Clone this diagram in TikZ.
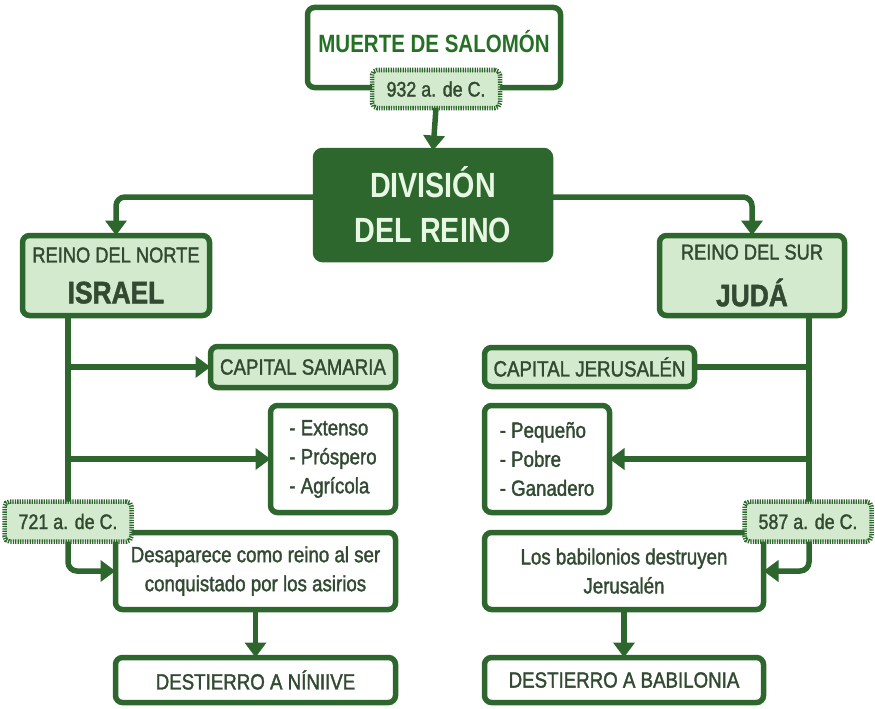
\documentclass[tikz,border=0pt]{standalone}
\usepackage{fontspec}
\setmainfont{Liberation Sans}[FakeStretch=0.82]
\newfontfamily\medfont{Liberation Sans}[FakeStretch=0.85, FakeBold=1.6]
\usetikzlibrary{arrows.meta}
\definecolor{dkgreen}{RGB}{46,103,46}
\definecolor{ltgreen}{RGB}{212,234,207}
\definecolor{txtgreen}{RGB}{50,74,50}
\definecolor{brgreen}{RGB}{36,112,36}
\definecolor{paletxt}{RGB}{232,246,228}
\tikzset{
  box/.style={draw=dkgreen, line width=5.5pt, rounded corners=7pt, fill=white,
    inner sep=0pt, outer sep=0pt, text=txtgreen, align=center},
  lbox/.style={box, fill=ltgreen},
  datebox/.style={draw=dkgreen, line width=4.5pt, dash pattern=on 1.3pt off 1.1pt,
    fill=ltgreen, rounded corners=5pt, inner sep=0pt, outer sep=0pt, text=txtgreen,
    minimum width=127pt, minimum height=40pt, font=\medfont\fontsize{21}{24}\selectfont},
  conn/.style={draw=dkgreen, line width=5.5pt, rounded corners=9pt},
  arr/.style={conn, -{Triangle[width=21pt,length=15pt]}},
  normal/.style={font=\medfont\fontsize{22}{29}\selectfont},
}
\begin{document}
\begin{tikzpicture}[x=1pt,y=-1pt]
\useasboundingbox (0,0) rectangle (875,709);
% boxes
\node[box, minimum width=253pt, minimum height=80pt, text=brgreen,
  font=\fontsize{25}{28}\selectfont\bfseries] (muerte) at (434,47.5) {\raisebox{13pt}{MUERTE DE SALOMÓN}};
\node[box, fill=dkgreen, draw=dkgreen, minimum width=235pt, minimum height=109pt, text=paletxt,
  font=\fontsize{35}{45}\selectfont\bfseries] (division) at (433,205) {DIVISIÓN\\DEL REINO};
\node[lbox, minimum width=187pt, minimum height=80pt] (norte) at (116,275.5)
  {{\medfont\fontsize{21.5}{24}\selectfont REINO DEL NORTE}\\[18pt]{\medfont\fontsize{31}{30}\selectfont\bfseries ISRAEL}};
\node[lbox, minimum width=185pt, minimum height=80pt] (sur) at (752,275.5)
  {{\medfont\fontsize{21.5}{24}\selectfont REINO DEL SUR}\\[18pt]{\medfont\fontsize{31}{30}\selectfont\bfseries JUDÁ}};
\node[lbox, normal, minimum width=185pt, minimum height=41pt] (samaria) at (303,367) {CAPITAL SAMARIA};
\node[lbox, normal, minimum width=210pt, minimum height=39pt] (jerusalen) at (589.5,367) {CAPITAL JERUSALÉN};
\node[box, normal, align=left, minimum width=125pt, minimum height=107pt] (extenso) at (333,459)
  {- Extenso\\- Próspero\\- Agrícola};
\node[box, normal, align=left, minimum width=125pt, minimum height=107pt] (pequeno) at (547,459)
  {- Pequeño\\- Pobre\\- Ganadero};
\node[box, normal, minimum width=280pt, minimum height=77pt] (desaparece) at (255.5,571)
  {Desaparece como reino al ser\\conquistado por los asirios};
\node[box, normal, minimum width=279pt, minimum height=77pt] (babilonios) at (624,571)
  {Los babilonios destruyen\\Jerusalén};
\node[box, normal, minimum width=280pt, minimum height=45pt] (niniive) at (255.5,680)
  {DESTIERRO A NÍNIIVE};
\node[box, normal, minimum width=279pt, minimum height=45pt] (babilonia) at (624,680)
  {DESTIERRO A BABILONIA};
% connectors
\draw[arr] ([yshift=8pt]division.west) -| (norte.north);
\draw[arr] ([yshift=8pt]division.east) -| (sur.north);
\coordinate (t721) at (68,521.5);
\coordinate (t587) at (809,521.5);
\draw[conn] (norte.south -| t721) -- (t721);
\draw[arr] (t721 |- samaria.west) -- (samaria.west);
\draw[arr] (t721 |- extenso.west) -- (extenso.west);
\draw[arr] (t721) |- (desaparece.west);
\draw[arr] (desaparece.south) -- (niniive.north);
\draw[conn] (sur.south -| t587) -- (t587);
\draw[conn] (t587 |- jerusalen.east) -- (jerusalen.east);
\draw[arr] (t587 |- pequeno.east) -- (pequeno.east);
\draw[arr] (t587) |- (babilonios.east);
\draw[arr] (babilonios.south) -- (babilonia.north);
% dates on top
\node[datebox] (d721) at (68,521.5) {721 a. de C.};
\node[datebox] (d587) at (808,521.5) {587 a. de C.};
\node[datebox, minimum width=128pt, minimum height=38pt] (d932) at (436,89) {932 a. de C.};
\draw[arr] (d932.south) -- (division.north);
\end{tikzpicture}
\end{document}
